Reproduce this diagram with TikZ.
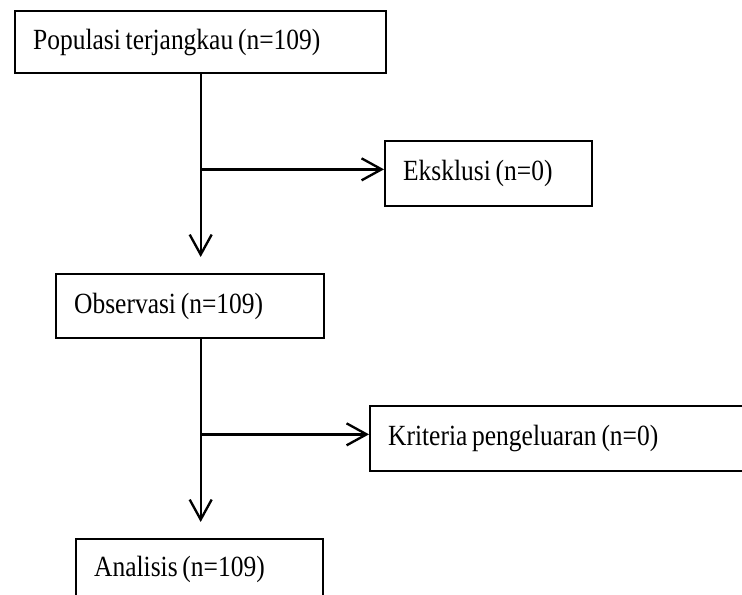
\documentclass[tikz,border=0pt]{standalone}
\usepackage{fontspec}
\setmainfont{Liberation Serif}[FakeStretch=0.87, WordSpace=0.75]
\usetikzlibrary{calc}
\usetikzlibrary{arrows.meta}
\usetikzlibrary{positioning}
\tikzset{
  flowbox/.style={draw, line width=2pt, rectangle, anchor=north west, align=flush left,
    inner xsep=0.54cm, inner ysep=0pt, font=\fontsize{25}{29}\selectfont},
  flowarrow/.style={line width=2pt, -{Straight Barb[length=0.6cm, width=0.66cm, line width=2pt]}},
}
\begin{document}
\begin{tikzpicture}[x=0.03cm, y=-0.03cm]
  \useasboundingbox (0,0) rectangle (742,595);
  \clip (0,0) rectangle (742,595);

  \node [flowbox, text width=10.05cm, minimum height=1.86cm] (pop) at (14,10) {Populasi terjangkau (n=109)};
  \node [flowbox, text width=5.13cm, minimum height=1.95cm] (eks) at (384,140) {Eksklusi (n=0)};
  \node [flowbox, text width=6.96cm, minimum height=1.92cm] (obs) at (55,273) {Observasi (n=109)};
  \node [flowbox, text width=10.95cm, minimum height=1.95cm] (krit) at (369,405) {Kriteria pengeluaran (n=0)};
  \node [flowbox, text width=6.33cm, minimum height=1.8cm] (ana) at (75,538) {Analisis (n=109)};

  \coordinate (fork1) at ($(pop.south)+(0,95)$);
  \coordinate (fork2) at ($(pop.south |- obs.south)+(0,95)$);

  \draw [flowarrow] (pop.south) -- ($(pop.south |- obs.north)+(0,-16)$);
  \draw [flowarrow] (fork1) -- (fork1 -| eks.west);

  \draw [flowarrow] (pop.south |- obs.south) -- ($(pop.south |- ana.north)+(0,-16)$);
  \draw [flowarrow] (fork2) -- (fork2 -| krit.west);
\end{tikzpicture}
\end{document}
